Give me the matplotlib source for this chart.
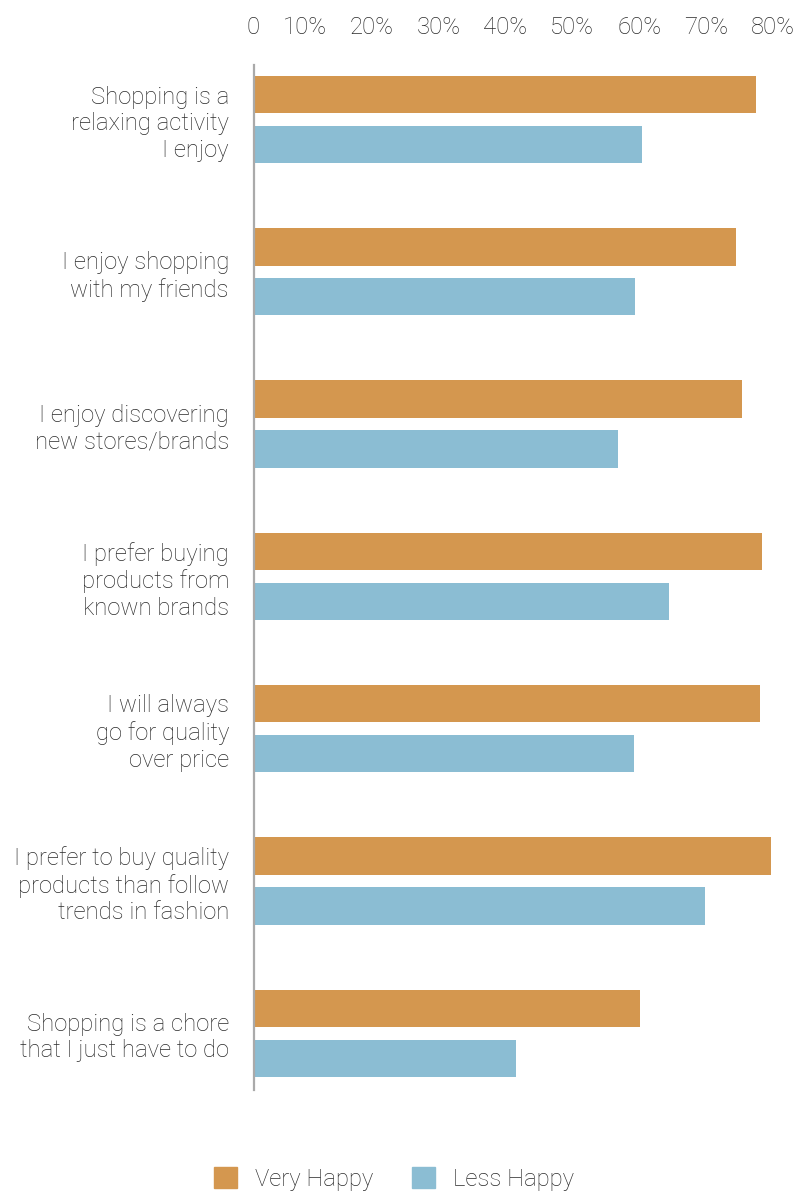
import matplotlib
matplotlib.use("Agg")
import matplotlib.pyplot as plt
from matplotlib.patches import Patch
from matplotlib.transforms import ScaledTranslation

plt.rcParams['font.family'] = ['Roboto', 'DejaVu Sans']

categories = [
    "Shopping is a\nrelaxing activity\nI enjoy",
    "I enjoy shopping\nwith my friends",
    "I enjoy discovering\nnew stores/brands",
    "I prefer buying\nproducts from\nknown brands",
    "I will always\ngo for quality\nover price",
    "I prefer to buy quality\nproducts than follow\ntrends in fashion",
    "Shopping is a chore\nthat I just have to do",
]
very_happy = [75, 72, 73, 76, 75.6, 77.3, 57.7]
less_happy = [58, 57, 54.4, 62, 56.8, 67.4, 39.2]
series_names = ["Very Happy", "Less Happy"]
xticks = [0, 10, 20, 30, 40, 50, 60, 70, 80]
xticklabels = ["0", "10%", "20%", "30%", "40%", "50%", "60%", "70%", "80%"]

c_vh = "#D4974F"
c_lh = "#8BBDD3"
txt = "#2a2a2a"
fs = 17.2

W, H = 798, 1194
fig = plt.figure(figsize=(W / 100, H / 100), dpi=100)
ax_l, ax_r, ax_t, ax_b = 254, 789, 65, 1090
ax = fig.add_axes([ax_l / W, 1 - ax_b / H, (ax_r - ax_l) / W, (ax_b - ax_t) / H])

n = len(categories)
ys = list(range(n))
bh = 0.245
off = 0.164
ax.barh([y - off for y in ys], very_happy, height=bh, color=c_vh, label=series_names[0])
ax.barh([y + off for y in ys], less_happy, height=bh, color=c_lh, label=series_names[1])

ax.set_xlim(0, 80)
ax.set_ylim(n - 1 + 0.372, -0.358)

for s in ["top", "right", "bottom"]:
    ax.spines[s].set_visible(False)
ax.spines["left"].set_color("#aaaaaa")
ax.spines["left"].set_linewidth(1.6)

ax.xaxis.tick_top()
ax.set_xticks(xticks)
ax.set_xticklabels(xticklabels, fontsize=fs, color=txt, fontweight="light", ha="right")
ax.tick_params(axis="x", length=0, pad=19)
shift = ScaledTranslation(6 / 100, 0, fig.dpi_scale_trans)
for lab in ax.get_xticklabels():
    lab.set_transform(lab.get_transform() + shift)

ax.set_yticks(ys)
ax.set_yticklabels(categories, fontsize=fs, color=txt, fontweight="light", linespacing=1.2)
ax.tick_params(axis="y", length=0, pad=18)

handles = [Patch(color=c_vh), Patch(color=c_lh)]
leg = fig.legend(handles, series_names, loc="center", bbox_to_anchor=(394 / W, 1 - 1179 / H),
                 ncol=2, frameon=False, fontsize=fs, handlelength=0.98, handleheight=1.0,
                 handletextpad=0.75, columnspacing=1.6)
for t in leg.get_texts():
    t.set_color(txt)
    t.set_fontweight("light")

fig.savefig("out.png", dpi=100)
